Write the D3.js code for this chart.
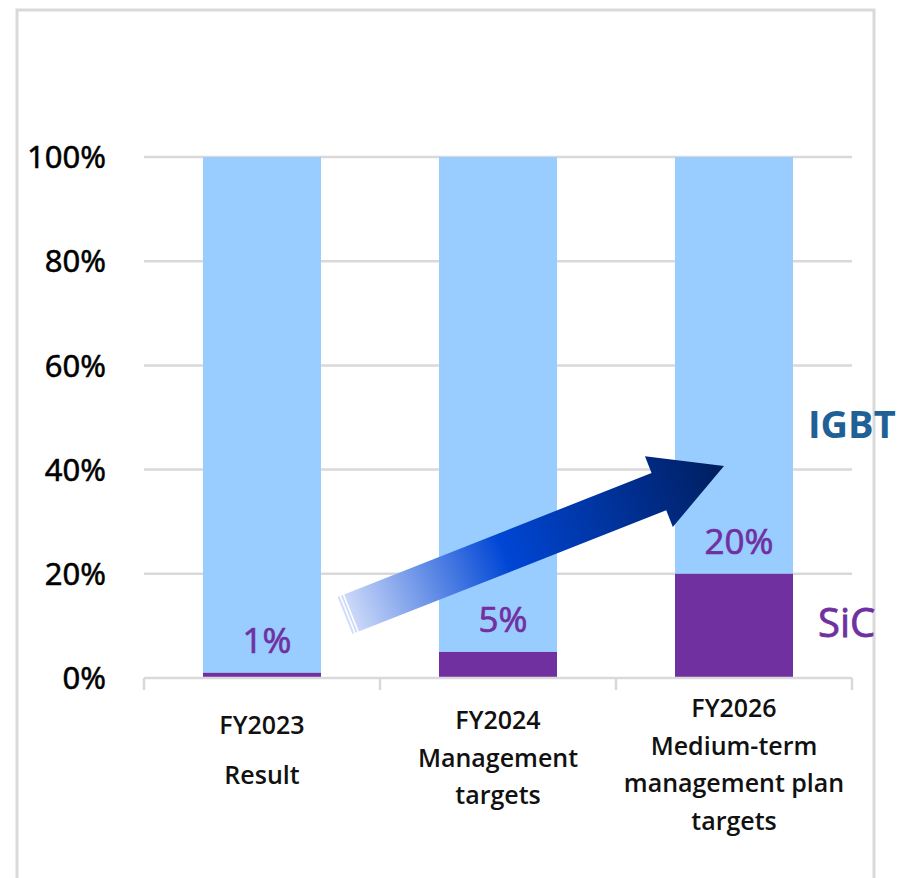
<!DOCTYPE html>
<html>
<head>
<meta charset="utf-8">
<script src="https://cdn.jsdelivr.net/npm/d3@7"></script>
<style>
  body { margin: 0; background: #fff; }
  svg { display: block; }
</style>
</head>
<body>
<div id="chart"></div>
<script>
// chart data
const categories = ["FY2023", "FY2024", "FY2026"];
const categoryLines = [
    ["FY2023", "Result"],
    ["FY2024", "Management", "targets"],
    ["FY2026", "Medium-term", "management plan", "targets"]
];
const sicShare = [1, 5, 20];
const igbtShare = [99, 95, 80];
const valueLabels = ["1%", "5%", "20%"];
const yTicks = [0, 20, 40, 60, 80, 100];
const seriesNames = ["IGBT", "SiC"];

const W = 897, H = 878;
const svg = d3.select("#chart").append("svg")
    .attr("width", W)
    .attr("height", H);

svg.append("rect").attr("width", W).attr("height", H).attr("fill", "#fff");

// outer frame (bottom edge runs off the picture)
svg.append("rect")
    .attr("x", 17).attr("y", 10)
    .attr("width", 857).attr("height", 900)
    .attr("fill", "none")
    .attr("stroke", "#d9d9d9")
    .attr("stroke-width", 3);

const plot = { left: 144, right: 852, top: 157, bottom: 678 };

const x = d3.scaleBand()
    .domain(categories)
    .range([plot.left, plot.right])
    .paddingInner(0.5)
    .paddingOuter(0.25);

const y = d3.scaleLinear()
    .domain([0, 100])
    .range([plot.bottom, plot.top]);

const font = "'Open Sans', 'Noto Sans', sans-serif";

// gridlines
svg.append("g")
    .selectAll("line")
    .data(yTicks.filter(d => d > 0))
    .enter().append("line")
    .attr("x1", plot.left).attr("x2", plot.right)
    .attr("y1", d => y(d)).attr("y2", d => y(d))
    .attr("stroke", "#d9d9d9")
    .attr("stroke-width", 2.5);

// y axis labels
svg.append("g")
    .selectAll("text")
    .data(yTicks)
    .enter().append("text")
    .attr("x", 106)
    .attr("y", d => y(d))
    .attr("dy", "0.36em")
    .attr("text-anchor", "end")
    .attr("font-family", "'Noto Sans', 'Open Sans', sans-serif")
    .attr("font-size", 31)
    .attr("fill", "#000")
    .attr("stroke", "#000")
    .attr("stroke-width", 0.5)
    .text(d => d + "%");

// bars: SiC at the bottom, IGBT stacked on top
const bars = svg.append("g");
bars.selectAll(".igbt")
    .data(categories)
    .enter().append("rect")
    .attr("class", "igbt")
    .attr("x", d => x(d))
    .attr("width", x.bandwidth())
    .attr("y", (d, i) => y(sicShare[i] + igbtShare[i]))
    .attr("height", (d, i) => y(sicShare[i]) - y(sicShare[i] + igbtShare[i]))
    .attr("fill", "#99ccff");

bars.selectAll(".sic")
    .data(categories)
    .enter().append("rect")
    .attr("class", "sic")
    .attr("x", d => x(d))
    .attr("width", x.bandwidth())
    .attr("y", (d, i) => y(sicShare[i]))
    .attr("height", (d, i) => y(0) - y(sicShare[i]))
    .attr("fill", "#7030a0");

// x axis line and category separators
const xAxis = svg.append("g").attr("stroke", "#d9d9d9").attr("stroke-width", 2.5);
xAxis.append("line")
    .attr("x1", plot.left).attr("x2", plot.right)
    .attr("y1", y(0)).attr("y2", y(0));
const step = x.step();
xAxis.selectAll(".sep")
    .data(d3.range(categories.length + 1))
    .enter().append("line")
    .attr("x1", i => plot.left + i * step).attr("x2", i => plot.left + i * step)
    .attr("y1", y(0)).attr("y2", y(0) + 12);

// category labels
const labelTop = [734, 729, 717];
const labelGap = [50, 37.5, 37.5];
categoryLines.forEach((lines, i) => {
    svg.append("text")
        .attr("x", x(categories[i]) + x.bandwidth() / 2)
        .attr("text-anchor", "middle")
        .attr("font-family", font)
        .attr("font-weight", 600)
        .attr("font-size", 25)
        .attr("fill", "#111")
        .selectAll("tspan")
        .data(lines)
        .enter().append("tspan")
        .attr("x", x(categories[i]) + x.bandwidth() / 2)
        .attr("y", (d, j) => labelTop[i] + j * labelGap[i])
        .text(d => d);
});

// value labels above SiC bars
svg.append("g")
    .selectAll("text")
    .data(categories)
    .enter().append("text")
    .attr("x", d => x(d) + x.bandwidth() / 2 + 5)
    .attr("y", (d, i) => y(sicShare[i]) - 20)
    .attr("text-anchor", "middle")
    .attr("font-family", font)
    .attr("font-size", 35)
    .attr("fill", "#7030a0")
    .attr("stroke", "#7030a0")
    .attr("stroke-width", 0.7)
    .text((d, i) => valueLabels[i]);

// growth arrow
const tail = [x(categories[0]) + x.bandwidth() + 24, y(12)];
const tip = [x(categories[2]) + 49, y(40.7)];
const dx = tip[0] - tail[0], dy = tip[1] - tail[1];
const len = Math.hypot(dx, dy);
const ang = Math.atan2(dy, dx) * 180 / Math.PI;
const shaftHalf = 20, headHalf = 38, headLen = 70;

const defs = svg.append("defs");
const grad = defs.append("linearGradient")
    .attr("id", "arrowGrad")
    .attr("gradientUnits", "userSpaceOnUse")
    .attr("x1", 0).attr("y1", 0).attr("x2", len).attr("y2", 0);
grad.append("stop").attr("offset", "0%").attr("stop-color", "#d3defa");
grad.append("stop").attr("offset", "42%").attr("stop-color", "#0046d5");
grad.append("stop").attr("offset", "100%").attr("stop-color", "#001e5e");

const arrow = svg.append("g")
    .attr("transform", `translate(${tail[0]},${tail[1]}) rotate(${ang})`);
const bodyEnd = len - headLen;
arrow.append("path")
    .attr("d", `M0,${-shaftHalf} L${bodyEnd},${-shaftHalf} L${bodyEnd},${-headHalf} L${len},0 L${bodyEnd},${headHalf} L${bodyEnd},${shaftHalf} L0,${shaftHalf} Z`)
    .attr("fill", "url(#arrowGrad)");
// striped tail
[2.8, 6.2].forEach(sx => {
    arrow.append("line")
        .attr("x1", sx).attr("x2", sx)
        .attr("y1", -shaftHalf - 1).attr("y2", shaftHalf + 1)
        .attr("stroke", "#fff")
        .attr("stroke-width", 1.6);
});

// series names
svg.append("text")
    .attr("x", 808).attr("y", 438)
    .attr("font-family", font)
    .attr("font-weight", 700)
    .attr("font-size", 38)
    .attr("fill", "#1f6196")
    .text(seriesNames[0]);

svg.append("text")
    .attr("x", 818).attr("y", 637)
    .attr("font-family", font)
    .attr("font-size", 40)
    .attr("fill", "#7030a0")
    .attr("stroke", "#7030a0")
    .attr("stroke-width", 0.8)
    .text(seriesNames[1]);
</script>
</body>
</html>
